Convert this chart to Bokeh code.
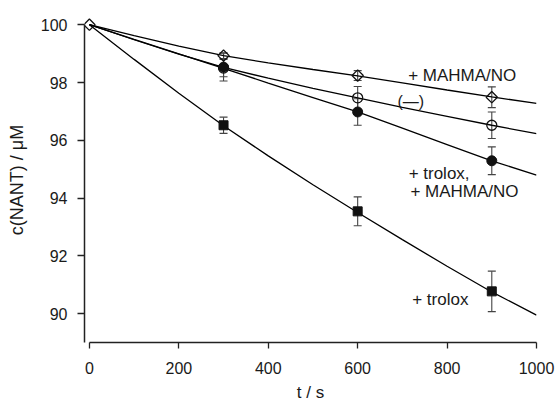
import numpy as np
from bokeh.plotting import figure
from bokeh.models import ColumnDataSource, Whisker, TeeHead, Label, FixedTicker, Range1d
from bokeh.embed import file_html
from bokeh.resources import INLINE

# measured points
t_pts = [0, 300, 600, 900]
mahma = [100, 98.93, 98.24, 97.49]
mahma_err = [0, 0.10, 0.17, 0.36]
ctrl = [100, 98.50, 97.47, 96.52]
ctrl_err = [0, 0.30, 0.39, 0.46]
trolox_mahma = [100, 98.53, 96.98, 95.29]
trolox_mahma_err = [0, 0.48, 0.46, 0.48]
trolox = [100, 96.52, 93.54, 90.77]
trolox_err = [0, 0.28, 0.50, 0.70]

# fitted curves
t_fit = [0, 100, 200, 300, 400, 500, 600, 700, 800, 900, 1000]
fit_mahma = [100, 99.62, 99.26, 98.93, 98.68, 98.45, 98.23, 97.99, 97.74, 97.50, 97.28]
fit_ctrl = [100, 99.48, 98.98, 98.52, 98.15, 97.80, 97.47, 97.14, 96.83, 96.52, 96.23]
fit_trolox_mahma = [100, 99.49, 98.99, 98.49, 97.98, 97.48, 96.98, 96.42, 95.85, 95.29, 94.79]
fit_trolox = [100, 98.80, 97.63, 96.50, 95.46, 94.46, 93.50, 92.56, 91.64, 90.75, 89.95]

x_ticks = [0, 200, 400, 600, 800, 1000]
y_ticks = [90, 92, 94, 96, 98, 100]

FONT = "Liberation Sans"
TXT = "#1a1a1a"

p = figure(width=555, height=405, output_backend="svg", toolbar_location=None,
           x_range=Range1d(-11, 1000), y_range=Range1d(89, 100.25),
           min_border_left=84, min_border_right=19, min_border_top=17, min_border_bottom=63)
p.outline_line_color = None
p.grid.visible = False
p.background_fill_color = "white"
p.border_fill_color = "white"

for ax in (p.xaxis, p.yaxis):
    ax.axis_line_width = 1.5
    ax.axis_line_color = "#222222"
    ax.major_tick_line_color = "#222222"
    ax.major_tick_line_width = 1.3
    ax.major_tick_in = 0
    ax.minor_tick_line_color = None
    ax.major_label_text_font = FONT
    ax.major_label_text_font_size = "16px"
    ax.major_label_text_color = TXT
    ax.axis_label_text_font = FONT
    ax.axis_label_text_font_style = "normal"
    ax.axis_label_text_color = TXT

p.xaxis.ticker = FixedTicker(ticks=x_ticks)
p.yaxis.ticker = FixedTicker(ticks=y_ticks)
p.xaxis.bounds = (0, 1000)
p.yaxis.bounds = (89, 100)
p.xaxis.major_tick_out = 6
p.yaxis.major_tick_out = 7
p.xaxis.major_label_standoff = 13
p.yaxis.major_label_standoff = 10

p.xaxis.axis_label = "t / s"
p.xaxis.axis_label_text_font_size = "17px"
p.xaxis.axis_label_standoff = 6
p.yaxis.axis_label = "c(NANT) / \u03bcM"
p.yaxis.axis_label_text_font_size = "18px"
p.yaxis.axis_label_standoff = 11

# fit lines
for fy in (fit_mahma, fit_ctrl, fit_trolox_mahma, fit_trolox):
    p.line(t_fit, fy, line_color="black", line_width=1.3)

# error bars
for ys, es in ((mahma, mahma_err), (ctrl, ctrl_err), (trolox_mahma, trolox_mahma_err), (trolox, trolox_err)):
    src = ColumnDataSource(dict(x=t_pts[1:],
                                lo=[a - b for a, b in zip(ys[1:], es[1:])],
                                hi=[a + b for a, b in zip(ys[1:], es[1:])]))
    w = Whisker(source=src, base="x", lower="lo", upper="hi",
                line_color="#444444", line_width=1.1,
                upper_head=TeeHead(size=8, line_color="#444444", line_width=1.1),
                lower_head=TeeHead(size=8, line_color="#444444", line_width=1.1))
    p.add_layout(w)

# markers (the shared start point at t = 0 is shown only by the diamond, as in the original)
p.scatter(t_pts[1:], trolox[1:], marker="square", size=9, fill_color="#111111", line_color="#111111")
p.scatter(t_pts[1:], ctrl[1:], marker="circle", size=10, fill_alpha=0, line_color="#111111", line_width=1.3)
p.scatter(t_pts[1:], trolox_mahma[1:], marker="circle", size=10, fill_color="#111111", line_color="#111111")
p.scatter(t_pts, mahma, marker="square", angle=np.pi / 4, size=8, fill_alpha=0,
          line_color="#111111", line_width=1.3)

def lab(x, y, text, size="17px"):
    p.add_layout(Label(x=x, y=y, text=text, text_font=FONT, text_font_size=size,
                       text_color=TXT, text_align="left", text_baseline="middle"))

lab(713, 98.24, "+ MAHMA/NO")
lab(689, 97.34, "(\u2014)", size="16px")
lab(714, 94.86, "+ trolox,")
lab(718, 94.21, "+ MAHMA/NO")
lab(722, 90.48, "+ trolox")

open("out.html", "w").write(file_html(p, INLINE))
